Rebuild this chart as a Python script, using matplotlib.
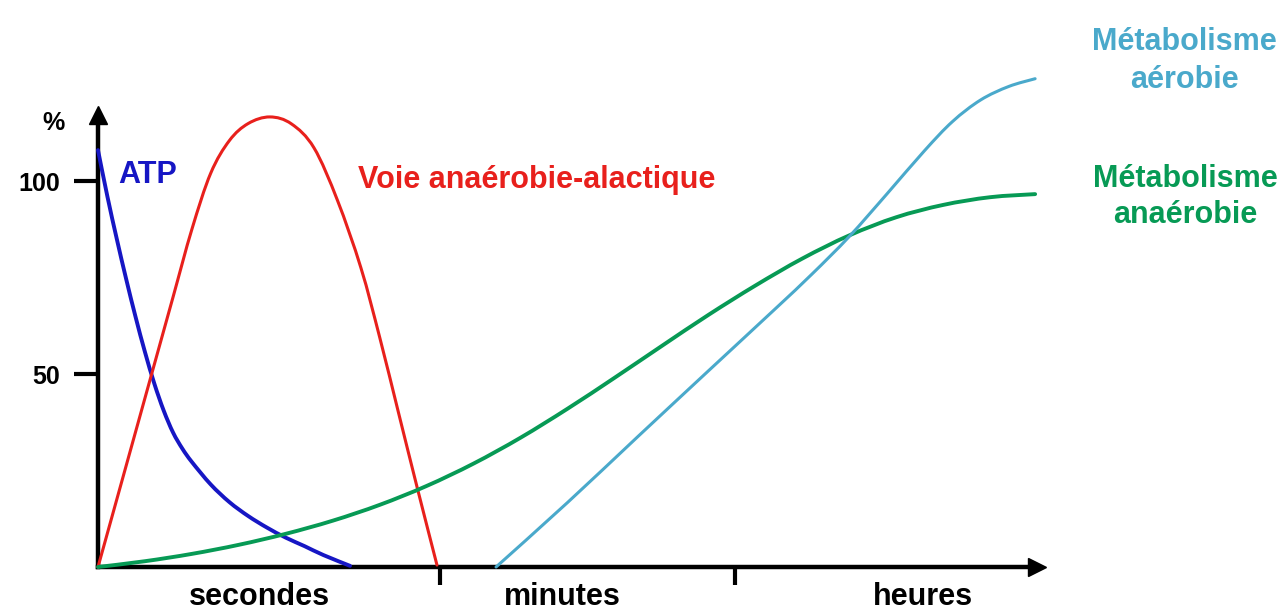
import numpy as np
import matplotlib.pyplot as plt
from matplotlib.path import Path
from matplotlib.patches import PathPatch

plt.rcParams['font.family'] = ['Liberation Sans', 'DejaVu Sans']
plt.rcParams['font.weight'] = 'bold'

# curves, x in arbitrary time units (0..100), y in %
atp_x = [0, 1, 2, 3, 4, 5, 6, 7, 8, 9, 10, 12, 14, 16, 18, 20, 22, 24, 26.84]
atp_y = [108, 96, 85, 74.6, 64.8, 55.7, 47.5, 40.5, 34.8, 30.6, 27.2, 21.4, 16.8, 13.2, 10.2, 7.6, 5.4, 3.1, 0.3]

alac_x = [0, 2, 4, 6, 8, 10, 12, 14, 16, 18.3, 20.6, 23, 25.5, 28, 30, 32, 34, 36.1]
alac_y = [0, 17.5, 35, 52.5, 70, 87.5, 102, 110.5, 114.9, 116.6, 114.8, 108.6, 95, 77.5, 59.5, 40, 20.5, 0.5]

anaer_x = [0, 5, 10, 15, 20, 25, 30, 35, 40, 45, 50, 55, 60, 65, 70, 75, 80, 85, 90, 95, 99.8]
anaer_y = [0, 1.5, 3.4, 5.75, 8.6, 12.0, 16.1, 21.0, 26.8, 33.5, 41.0, 49.0, 57.2, 65.3, 72.9, 79.9, 85.9, 90.6, 93.8, 95.8, 96.6]

aer_x = [42.39, 50, 57.5, 65, 72, 76, 80, 84, 88, 91, 94, 97, 99.8]
aer_y = [0, 16.7, 33.8, 50.8, 66.6, 75.8, 85.6, 96.6, 107.8, 115.4, 121, 124.5, 126.5]

yticks = [50, 100]
ytick_labels = ['50', '100']
xbounds = [36.4, 67.8]
periods = ['secondes', 'minutes', 'heures']
period_pos = [17.2, 49.5, 87.9]

c_blue = '#1616c4'
c_red = '#e8201c'
c_green = '#079a55'
c_cyan = '#4aa9cb'


def smooth_path(xs, ys):
    # catmull-rom through the points, drawn as cubic bezier segments
    p = np.column_stack([xs, ys]).astype(float)
    ext = np.vstack([p[0], p, p[-1]])
    verts = [p[0]]
    codes = [Path.MOVETO]
    for i in range(1, len(ext) - 2):
        p0, p1, p2, p3 = ext[i - 1], ext[i], ext[i + 1], ext[i + 2]
        verts += [p1 + (p2 - p0) / 6, p2 - (p3 - p1) / 6, p2]
        codes += [Path.CURVE4] * 3
    return Path(verts, codes)


def curve(ax, xs, ys, color, lw):
    ax.add_patch(PathPatch(smooth_path(xs, ys), fill=False, edgecolor=color,
                           lw=lw, clip_on=False, zorder=3, capstyle='round'))


W, H = 1283, 612
fig = plt.figure(figsize=(W / 100, H / 100), dpi=100)
ax = fig.add_axes([98 / W, 45 / H, (1037 - 98) / W, (567 - 115) / H])
ax.set_xlim(0, 100)
ax.set_ylim(0, 117.1)

for sp in ['top', 'right']:
    ax.spines[sp].set_visible(False)
for sp in ['left', 'bottom']:
    ax.spines[sp].set_linewidth(3.2)

ax.plot(1, 0, '>k', ms=13, transform=ax.transAxes, clip_on=False)
ax.plot(0, 1, '^k', ms=13, transform=ax.transAxes, clip_on=False)

curve(ax, atp_x, atp_y, c_blue, 2.8)
curve(ax, alac_x, alac_y, c_red, 2.2)
curve(ax, anaer_x, anaer_y, c_green, 2.8)
curve(ax, aer_x, aer_y, c_cyan, 2.2)

ax.set_yticks(yticks)
ax.set_yticklabels(ytick_labels, fontsize=18, fontweight='bold')
ax.tick_params(axis='y', length=17, width=3, pad=10)
ax.set_xticks(xbounds)
ax.set_xticklabels([])
ax.tick_params(axis='x', length=13, width=3)

for lab, xp in zip(periods, period_pos):
    ax.text(xp, -0.084, lab, transform=ax.get_xaxis_transform(), ha='center',
            va='baseline', fontsize=22, fontweight='bold')


def ftext(px, py, s, **kw):
    fig.text(px / W, 1 - py / H, s, va='baseline', fontweight='bold', **kw)


ftext(42, 130, '%', fontsize=18)
ftext(118, 183, 'ATP', fontsize=22, color=c_blue)
ftext(358, 188, 'Voie anaérobie-alactique', fontsize=22, color=c_red)
ftext(1184, 50, 'Métabolisme', fontsize=22, color=c_cyan, ha='center')
ftext(1184, 88, 'aérobie', fontsize=22, color=c_cyan, ha='center')
ftext(1185, 187, 'Métabolisme', fontsize=22, color=c_green, ha='center')
ftext(1185, 223, 'anaérobie', fontsize=22, color=c_green, ha='center')

fig.savefig('out.png', dpi=100)
